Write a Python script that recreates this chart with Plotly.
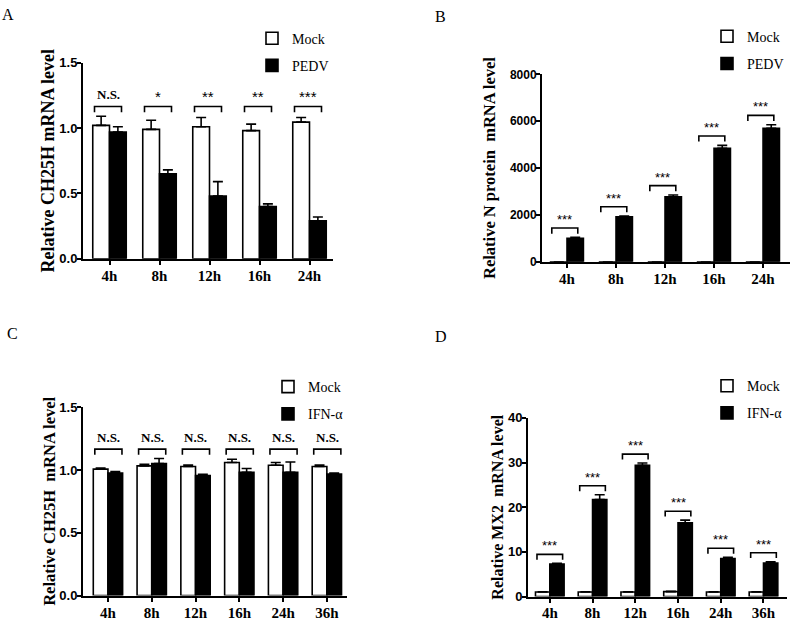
import plotly.graph_objects as go

# ---------------- data ----------------
A_categories = ["4h", "8h", "12h", "16h", "24h"]
A_mock = [1.02, 0.99, 1.01, 0.98, 1.045]
A_mock_err = [0.07, 0.07, 0.07, 0.05, 0.035]
A_pedv = [0.97, 0.65, 0.48, 0.40, 0.29]
A_pedv_err = [0.04, 0.03, 0.11, 0.02, 0.03]
A_sig = ["N.S.", "*", "**", "**", "***"]

B_categories = ["4h", "8h", "12h", "16h", "24h"]
B_mock = [1, 1, 1, 1, 1]
B_mock_err = [0, 0, 0, 0, 0]
B_pedv = [1000, 1920, 2770, 4840, 5700]
B_pedv_err = [40, 30, 80, 130, 150]
B_sig = ["***", "***", "***", "***", "***"]

C_categories = ["4h", "8h", "12h", "16h", "24h", "36h"]
C_mock = [1.007, 1.033, 1.028, 1.059, 1.038, 1.028]
C_mock_err = [0.008, 0.013, 0.012, 0.026, 0.021, 0.012]
C_ifn = [0.975, 1.051, 0.955, 0.981, 0.981, 0.968]
C_ifn_err = [0.012, 0.04, 0.01, 0.031, 0.083, 0.008]
C_sig = ["N.S."] * 6

D_categories = ["4h", "8h", "12h", "16h", "24h", "36h"]
D_mock = [1.0, 1.0, 1.0, 1.1, 1.0, 1.0]
D_mock_err = [0.05, 0.05, 0.05, 0.08, 0.05, 0.05]
D_ifn = [7.3, 21.7, 29.4, 16.5, 8.5, 7.5]
D_ifn_err = [0.15, 1.1, 0.5, 0.6, 0.3, 0.3]
D_sig = ["***"] * 6

# ---------------- layout helpers ----------------
W, H = 791, 626
SERIF = "Liberation Serif"
SANS = "Liberation Sans"


def xdom(a, b):
    return [a / W, b / W]


def ydom(top, bottom):
    return [1 - bottom / H, 1 - top / H]


panels = [
    dict(key="A", cats=A_categories, mock=A_mock, mock_err=A_mock_err, trt=A_pedv, trt_err=A_pedv_err,
         sig=A_sig, trt_name="PEDV", ymax=1.5, dtick=0.5, fmt=".1f",
         title="Relative CH25H mRNA level", title_size=18, ytick_size=13, star_size=15,
         xd=xdom(83, 333), yd=ydom(57, 258), xr=[-0.53, 4.47], common=True,
         br=(-0.30, 0.24), leg=(252, 16), letter=(0, -3), xstand=-2, tstand=0),
    dict(key="B", cats=B_categories, mock=B_mock, mock_err=B_mock_err, trt=B_pedv, trt_err=B_pedv_err,
         sig=B_sig, trt_name="PEDV", ymax=8000, dtick=2000, fmt="d",
         title="Relative N protein\u00a0 mRNA level", title_size=16.5, ytick_size=12, star_size=13,
         xd=xdom(542, 790), yd=ydom(69, 261), xr=[-0.51, 4.55], common=False,
         br=(-0.31, 0.22), leg=(707, 14), letter=(433, -1), xstand=-2, tstand=10),
    dict(key="C", cats=C_categories, mock=C_mock, mock_err=C_mock_err, trt=C_ifn, trt_err=C_ifn_err,
         sig=C_sig, trt_name="IFN-α", ymax=1.5, dtick=0.5, fmt=".1f",
         title="Relative CH25H\u00a0 mRNA level", title_size=16.5, ytick_size=13, star_size=15,
         xd=xdom(83, 347), yd=ydom(410, 603), xr=[-0.57, 5.46], common=True,
         br=(-0.30, 0.32), leg=(268, 373), letter=(5, 324), xstand=-2, tstand=0),
    dict(key="D", cats=D_categories, mock=D_mock, mock_err=D_mock_err, trt=D_ifn, trt_err=D_ifn_err,
         sig=D_sig, trt_name="IFN-α", ymax=40, dtick=10, fmt="d",
         title="Relative MX2\u00a0 mRNA level", title_size=16, ytick_size=13, star_size=13,
         xd=xdom(528, 787), yd=ydom(421, 604), xr=[-0.51, 5.55], common=False,
         br=(-0.30, 0.30), leg=(707, 372), letter=(433, 327), xstand=-3, tstand=0),
]

fig = go.Figure()
annotations = []
layout = dict(
    width=W, height=H, autosize=False,
    margin=dict(l=0, r=0, t=0, b=0, pad=0),
    paper_bgcolor="white", plot_bgcolor="white",
    barmode="group", bargap=0.33, bargroupgap=0,
    font=dict(family=SERIF, color="black"),
)

for k, p in enumerate(panels):
    sfx = "" if k == 0 else str(k + 1)
    xa, ya = "x" + sfx, "y" + sfx
    lg = "legend" + sfx
    n = len(p["cats"])
    idx = list(range(n))

    fig.add_trace(go.Bar(
        x=idx, y=p["mock"], name="Mock", xaxis=xa, yaxis=ya, legend=lg,
        legendgroup=p["key"] + "mock", offsetgroup="m",
        marker=dict(color="white", line=dict(color="black", width=1.6)),
        error_y=dict(type="data", array=p["mock_err"], arrayminus=[0] * n, symmetric=False,
                     color="black", thickness=1.6, width=5),
    ))
    fig.add_trace(go.Bar(
        x=idx, y=p["trt"], name=p["trt_name"], xaxis=xa, yaxis=ya, legend=lg,
        legendgroup=p["key"] + "trt", offsetgroup="t",
        marker=dict(color="black", line=dict(color="black", width=1.6)),
        error_y=dict(type="data", array=p["trt_err"], arrayminus=[0] * n, symmetric=False,
                     color="black", thickness=1.6, width=5),
    ))

    # significance brackets
    tops = [max(m + me, t + te) for m, me, t, te in
            zip(p["mock"], p["mock_err"], p["trt"], p["trt_err"])]
    pad = 0.05 * p["ymax"]
    legl = 0.03 * p["ymax"]
    if p["common"]:
        levels = [max(tops) + pad] * n
    else:
        levels = [t + pad for t in tops]
    bx, by = [], []
    l, r = p["br"]
    for i in idx:
        yb = levels[i]
        bx += [i + l, i + l, i + r, i + r, None]
        by += [yb - legl, yb, yb, yb - legl, None]
        is_ns = p["sig"][i] == "N.S."
        annotations.append(dict(
            x=i + (l + r) / 2, y=yb, xref=xa, yref=ya, text=p["sig"][i],
            showarrow=False, yanchor="bottom", xanchor="center",
            yshift=2 if is_ns else -1,
            font=dict(family=SERIF if is_ns else SANS, size=13 if is_ns else p["star_size"],
                      color="black", weight="bold" if is_ns else "normal"),
        ))
    fig.add_trace(go.Scatter(
        x=bx, y=by, mode="lines", xaxis=xa, yaxis=ya, showlegend=False,
        line=dict(color="black", width=1.6), hoverinfo="skip",
    ))

    layout["xaxis" + sfx] = dict(
        domain=p["xd"], anchor=ya, range=p["xr"], tickmode="array",
        tickvals=idx, ticktext=p["cats"], showline=True, linecolor="black", linewidth=2,
        ticks="outside", ticklen=4, tickwidth=1.6, tickcolor="black",
        ticklabelstandoff=p["xstand"],
        showgrid=False, zeroline=False, fixedrange=True,
        tickfont=dict(family=SERIF, size=15, color="black", weight="bold"),
    )
    layout["yaxis" + sfx] = dict(
        domain=p["yd"], anchor=xa, range=[0, p["ymax"]], dtick=p["dtick"], tick0=0,
        tickformat=p["fmt"], showline=True, linecolor="black", linewidth=2,
        ticks="outside", ticklen=4, tickwidth=2, tickcolor="black",
        ticklabelstandoff=-3,
        showgrid=False, zeroline=False, fixedrange=True,
        tickfont=dict(family=SANS, size=p["ytick_size"], color="black", weight="bold"),
        title=dict(text=p["title"], standoff=p["tstand"],
                   font=dict(family=SERIF, size=p["title_size"], color="black", weight="bold")),
    )
    lx, ly = p["leg"]
    layout[lg] = dict(
        x=lx / W, y=1 - ly / H, xanchor="left", yanchor="top",
        bgcolor="rgba(0,0,0,0)", borderwidth=0, tracegroupgap=6,
        font=dict(family=SERIF, size=14, color="black"),
    )
    fx, fy = p["letter"]
    annotations.append(dict(
        x=fx / W, y=1 - fy / H, xref="paper", yref="paper", text=p["key"],
        showarrow=False, xanchor="left", yanchor="top",
        font=dict(family=SERIF, size=16, color="black"),
    ))

layout["annotations"] = annotations
fig.update_layout(**layout)
fig.write_html(
    "out.html",
    config={"displayModeBar": False},
    post_script="document.body.style.margin='0';document.body.style.overflow='hidden';",
)
